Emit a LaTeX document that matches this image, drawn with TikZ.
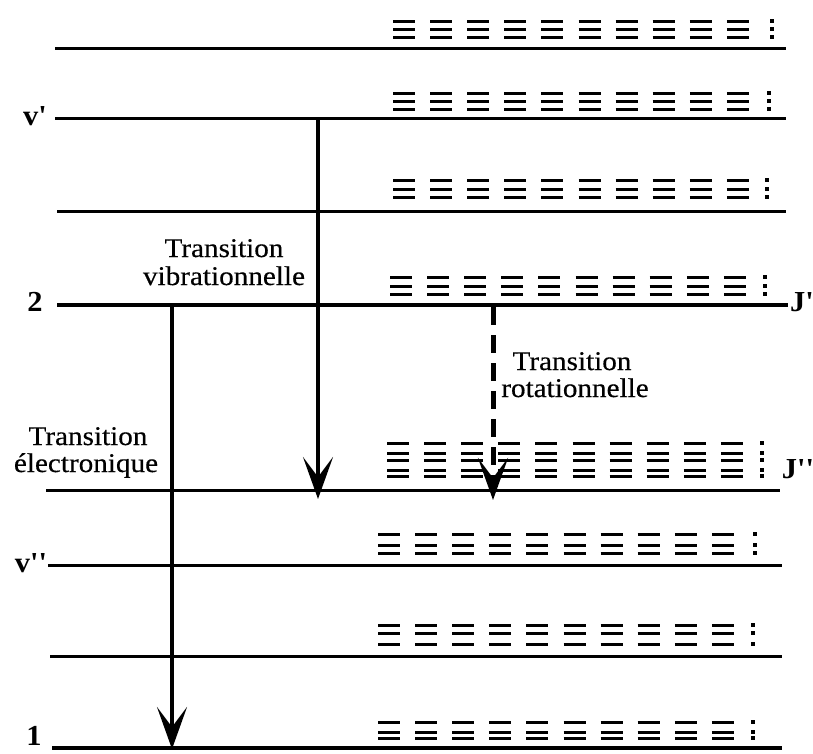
\documentclass[tikz,border=0pt]{standalone}
\usepackage{fontspec}
\usetikzlibrary{arrows.meta}
\newfontfamily\lbl[FakeStretch=1.08,FakeBold=0.4]{Liberation Serif}
\newfontfamily\lblb[FakeStretch=1.05]{Liberation Serif Bold}
\newcommand\dashgroup[3]{%
  \foreach \r in {#3}{%
    \foreach \k in {0,...,9}{\draw[dashmark] ({#1+\k*37.1},\r) -- ++(22,0);}%
    \fill ({#2-2},{\r-1.8}) rectangle ++(4.2,3.6);
  }}
\tikzset{
  level/.style={line width=3pt},
  dashmark/.style={line width=3pt},
  txt/.style={font=\lbl\fontsize{27}{28}\selectfont, inner sep=0pt, anchor=base},
  lab/.style={font=\lblb\fontsize{29}{30}\selectfont, inner sep=0pt, anchor=base},
  trans/.style={line width=4pt, -{Stealth[length=42pt,width=30pt,inset=20pt]}},
}
\begin{document}
\begin{tikzpicture}[x=1pt,y=-1pt]
\useasboundingbox (0,0) rectangle (813,753);
% levels
\draw[level] (55,48) -- (786,48);
\draw[level] (55,118) -- (786,118);
\draw[level] (57,211) -- (786,211);
\draw[line width=4pt] (57,305) -- (788,305);
\draw[level] (46,490) -- (780,490);
\draw[level] (48,565) -- (782,565);
\draw[level] (50,656) -- (782,656);
\draw[line width=3.5pt] (52,748) -- (782,748);
% rotational sublevels
\dashgroup{393}{772}{21,29,37}
\dashgroup{393}{769}{93,101,109}
\dashgroup{393}{767}{180,189,197}
\dashgroup{390}{765}{277,286,294}
\dashgroup{387}{762}{443,453,460,470,476}
\dashgroup{378}{755}{534,545,553}
\dashgroup{378}{753}{625,633,644}
\dashgroup{378}{753}{722,732,738}
% labels
\node[lab] (vp) at (35,125) {v'};
\node[lab] (two) at (35,311) {2};
\node[lab] (vpp) at (31,572) {v''};
\node[lab] (one) at (34,745) {1};
\node[lab] (jp) at (802,311) {J'};
\node[lab] (jpp) at (798,478) {J''};
\node[txt] (tv1) at (224,257) {Transition};
\node[txt] (tv2) at (224,285) {vibrationnelle};
\node[txt] (tr1) at (572,370) {Transition};
\node[txt] (tr2) at (575,397) {rotationnelle};
\node[txt] (te1) at (88,445) {Transition};
\node[txt] (te2) at (86,472) {électronique};
% transitions
\coordinate (vs) at (318,118);
\coordinate (ve) at (318,499);
\coordinate (es) at (172,305);
\coordinate (ee) at (172,749);
\coordinate (rs) at (493,307);
\coordinate (re) at (493,500);
\draw[trans] (vs) -- (ve);
\draw[trans] (es) -- (ee);
\draw[trans, line width=5pt, dash pattern=on 18pt off 10pt] (rs) -- (re);
\end{tikzpicture}
\end{document}
